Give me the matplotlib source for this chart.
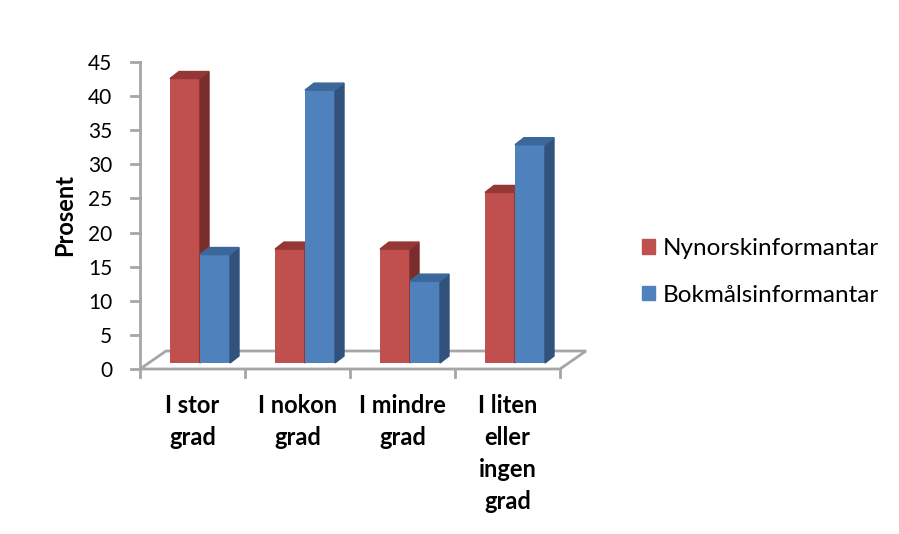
import matplotlib.pyplot as plt
import matplotlib.transforms as mtransforms
from matplotlib.patches import Polygon, Patch

plt.rcParams['font.family'] = ['Lato', 'DejaVu Sans']

categories = ['I stor\ngrad', 'I nokon\ngrad', 'I mindre\ngrad', 'I liten\neller\ningen\ngrad']
nynorsk = [41.7, 16.7, 16.7, 25.0]
bokmaal = [15.9, 40.0, 12.0, 32.0]
series_names = ['Nynorskinformantar', 'Bokmålsinformantar']

front_cols = ['#C0504D', '#4F81BD']
side_cols = ['#7B2D2B', '#30527C']
top_cols = ['#953735', '#3C679A']
grid_col = '#A6A6A6'

W, H = 899, 534
fig = plt.figure(figsize=(W / 100, H / 100), dpi=100)
# axes box in pixels: left 140, right 560, top 62, bottom 369
ax = fig.add_axes([140 / W, 1 - 369 / H, 420 / W, 307 / H])
ax.set_xlim(0, 4)
ax.set_ylim(0, 45)
for s in ax.spines.values():
    s.set_visible(False)
ax.set_xticks([])
ax.set_yticks(range(0, 46, 5))
ax.tick_params(axis='y', length=0, labelsize=15, pad=20)

# floor (depth offset in pixels)
fdx, fdy = 26, 18
to_px = ax.transData.transform
p0 = to_px((0, 0)); p1 = to_px((4, 0))
floor = [p0, p1, (p1[0] + fdx, p1[1] + fdy), (p0[0] + fdx, p0[1] + fdy)]
ax.add_patch(Polygon(floor, closed=True, fill=False, edgecolor=grid_col, lw=2,
                     transform=None, clip_on=False, zorder=1))
# vertical axis and ticks
ax.plot([0, 0], [0, 45], color=grid_col, lw=2, clip_on=False, zorder=1)
for v in range(0, 46, 5):
    q = to_px((0, v))
    ax.add_line(plt.Line2D([q[0] - 9, q[0]], [q[1], q[1]], color=grid_col, lw=2,
                           transform=None, clip_on=False))
for i in range(5):
    q = to_px((i, 0))
    ax.add_line(plt.Line2D([q[0], q[0]], [q[1], q[1] - 8], color=grid_col, lw=2,
                           transform=None, clip_on=False))

# bars sit in a plane a little behind the front edge
t_bar = mtransforms.offset_copy(ax.transData, fig=fig, x=7.5, y=6, units='dots')
bw = 30 / 105
bdx, bdy = 9, 7
for si, vals in enumerate([nynorsk, bokmaal]):
    xs = [i + 0.5 - bw + si * bw for i in range(4)]
    ax.bar(xs, vals, width=bw, align='edge', color=front_cols[si], transform=t_bar,
           clip_on=False, zorder=3 + si)
    for x, v in zip(xs, vals):
        br = t_bar.transform((x + bw, 0))
        tl = t_bar.transform((x, v)); tr = t_bar.transform((x + bw, v))
        side = [br, tr, (tr[0] + bdx, tr[1] + bdy), (br[0] + bdx, br[1] + bdy)]
        top = [tl, tr, (tr[0] + bdx, tr[1] + bdy), (tl[0] + bdx, tl[1] + bdy)]
        ax.add_patch(Polygon(side, closed=True, color=side_cols[si], transform=None,
                             clip_on=False, zorder=3 + si))
        ax.add_patch(Polygon(top, closed=True, color=top_cols[si], transform=None,
                             clip_on=False, zorder=3 + si))

# category labels
lab_off = mtransforms.ScaledTranslation(0, -18 / 72, fig.dpi_scale_trans)
for i, lab in enumerate(categories):
    ax.text(i + 0.5, 0, lab, transform=ax.transData + lab_off,
            ha='center', va='top', fontsize=17, fontweight='bold', linespacing=1.48)

fig.text(65 / W, 1 - 215 / H, 'Prosent', rotation=90, ha='center', va='center',
         fontsize=17, fontweight='bold')

handles = [Patch(color=c) for c in front_cols]
fig.legend(handles, series_names, loc='center left', bbox_to_anchor=(620 / W, 1 - 272 / H),
           frameon=False, fontsize=17.5, handlelength=0.55, handleheight=0.55,
           handletextpad=0.3, labelspacing=1.05)

fig.savefig('out.png', dpi=100)
